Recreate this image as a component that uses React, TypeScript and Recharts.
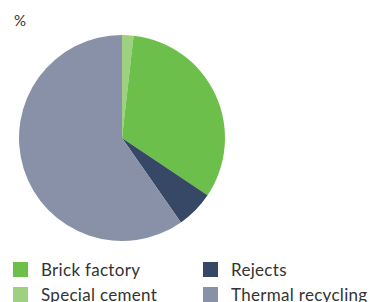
import React from "react";
import { Cell, Pie, PieChart } from "recharts";

const categories = ["Special cement", "Brick factory", "Rejects", "Thermal recycling"];
const shares = [1.8, 32.6, 5.9, 59.7];
const colors = ["#9dd07f", "#6dbf4b", "#374766", "#8891a8"];

// legend reads column-wise: Brick/Special, Rejects/Thermal
const legendOrder = [1, 2, 0, 3];

const data = categories.map((name, i) => ({ name, value: shares[i] }));

function LegendBox() {
  return (
    <div
      style={{
        position: "absolute",
        left: 13,
        top: 258,
        display: "grid",
        gridTemplateColumns: "190px 180px",
        rowGap: 3,
        fontFamily: "Lato, 'Open Sans', sans-serif",
        fontSize: 17,
        letterSpacing: 0.3,
        color: "#333",
      }}
    >
      {legendOrder.map((i) => (
        <div key={categories[i]} style={{ display: "flex", alignItems: "center", height: 22 }}>
          <span style={{ width: 15, height: 15, background: colors[i], marginRight: 13, display: "inline-block" }} />
          <span>{categories[i]}</span>
        </div>
      ))}
    </div>
  );
}

export default function App() {
  return (
    <div style={{ position: "absolute", left: 0, top: 0, width: 384, height: 302, background: "#fff", overflow: "hidden" }}>
      <div style={{ position: "absolute", left: 14, top: 11, fontFamily: "Lato, sans-serif", fontSize: 15, color: "#333" }}>%</div>
      <PieChart width={384} height={302} margin={{ top: 0, right: 0, bottom: 0, left: 0 }}>
        <Pie
          data={data}
          dataKey="value"
          nameKey="name"
          cx={122}
          cy={138}
          outerRadius={103}
          startAngle={90}
          endAngle={-270}
          stroke="none"
          isAnimationActive={false}
        >
          {data.map((d, i) => (
            <Cell key={d.name} fill={colors[i]} />
          ))}
        </Pie>
      </PieChart>
      <LegendBox />
    </div>
  );
}
